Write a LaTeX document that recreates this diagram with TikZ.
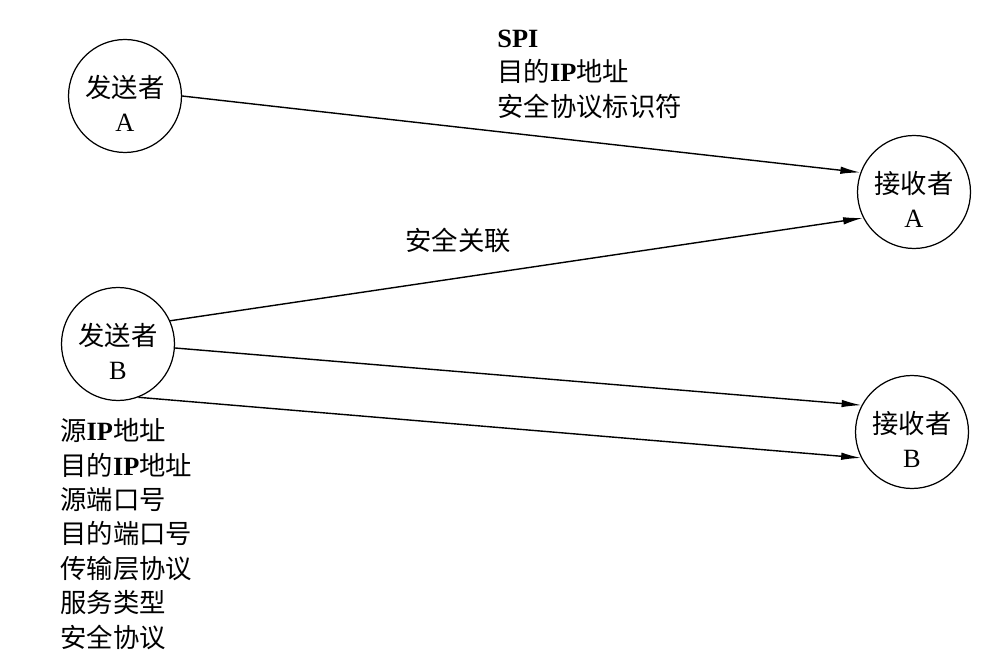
\documentclass[tikz,border=0pt]{standalone}
\usepackage{fontspec}
\setmainfont{Liberation Serif}
\newfontfamily\cjk{Noto Sans CJK SC}
\newcommand{\partytext}[2]{\rule{0pt}{21pt}{\cjk #1}\\#2}
\usetikzlibrary{arrows.meta}

\begin{document}
\begin{tikzpicture}[x=0.02cm, y=-0.02cm,
        party/.style={draw, circle, line width=0.7pt, minimum size=2.26cm, inner sep=0pt,
            align=center, font=\fontsize{15}{19.8}\selectfont},
        label text/.style={align=left, inner sep=0pt, font=\fontsize{15}{19.6}\selectfont},
        link/.style={line width=0.8pt, -{Latex[length=0.4cm, width=0.15cm]}}]
        \useasboundingbox (0, 0) rectangle (1004, 665);

        \node[party] (sendA) at (125, 96) {\partytext{发送者}{A}};
        \node[party] (recvA) at (914, 192) {\partytext{接收者}{A}};
        \node[party] (sendB) at (118, 344) {\partytext{发送者}{B}};
        \node[party] (recvB) at (912, 432) {\partytext{接收者}{B}};

        \draw[link] (sendA.0) -- (recvA.160);
        \draw[link] (sendB.24) -- (recvA.207);
        \draw[link] (sendB.-4) -- (recvB.152);
        \draw[link] (sendB.-69) -- (recvB.207);

        % parameters
        \node[label text, anchor=west] (spiText) at (497, 74)
            {\textbf{SPI}\\{\cjk 目的}\textbf{IP}{\cjk 地址}\\{\cjk 安全协议标识符}};
        \node[label text, anchor=west] (saText) at (405, 240) {\cjk 安全关联};
        \node[label text, anchor=west] (selText) at (60, 534)
            {{\cjk 源}\textbf{IP}{\cjk 地址}\\{\cjk 目的}\textbf{IP}{\cjk 地址}\\{\cjk 源端口号}\\
             {\cjk 目的端口号}\\{\cjk 传输层协议}\\{\cjk 服务类型}\\{\cjk 安全协议}};
    \end{tikzpicture}
\end{document}
